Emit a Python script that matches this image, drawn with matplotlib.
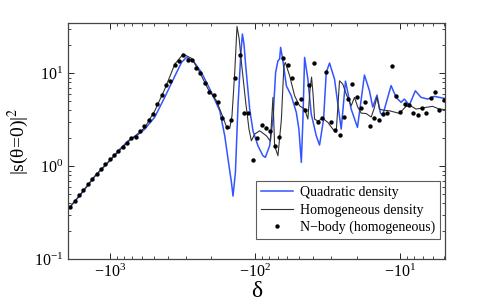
import numpy as np
import matplotlib
matplotlib.use('Agg')
import matplotlib.pyplot as plt
from matplotlib.ticker import LogLocator, FuncFormatter, NullFormatter

plt.rcParams['font.family'] = ['Liberation Serif', 'DejaVu Serif']
plt.rcParams['mathtext.fontset'] = 'stix'

# N-body (homogeneous) points
delta_nbody = [-1884, -1748, -1633, -1526, -1423, -1330, -1234, -1153, -1077, -1005,
               -939, -877, -818, -764, -714, -666, -622, -581, -542, -506,
               -473, -441, -412, -385, -359, -336, -314, -292, -273, -255,
               -238, -222, -206.5, -193, -180, -168, -157, -147, -137, -128,
               -119.4, -111.4, -104, -96.9, -90.2, -84.3, -78.6, -73.4, -68.6, -64.0,
               -59.8, -55.8, -52.1, -48.7, -45.5, -42.4, -39.6, -37.0, -34.5, -32.3,
               -30.1, -28.1, -26.2, -24.5, -22.9, -21.4, -20.0, -18.6, -17.4, -16.2,
               -15.1, -14.1, -13.15, -12.3, -11.5, -10.7, -10.0, -9.34, -8.71, -8.14,
               -7.60, -7.10, -6.63, -6.19, -5.77, -5.40, -5.01]
s_nbody = [0.368, 0.427, 0.488, 0.560, 0.640, 0.730, 0.833, 0.942, 1.05, 1.19,
           1.32, 1.47, 1.61, 1.78, 2.01, 2.08, 2.38, 2.69, 3.12, 3.65,
           4.68, 5.84, 7.43, 8.32, 12.4, 13.6, 15.8, 14.0, 14.1, 11.3,
           10.15, 7.86, 6.25, 5.84, 4.95, 3.33, 2.63, 3.17, 8.9, 15.7,
           3.77, 3.71, 1.17, 2.0, 2.78, 2.58, 2.38, 1.66, 2.08, 14.6,
           12.3, 8.9, 4.76, 5.25, 4.03, 7.43, 13.0, 3.02, 3.33, 10.25,
           3.02, 2.44, 2.15, 3.39, 5.29, 7.62, 5.60, 4.27, 4.91, 2.73,
           3.28, 3.17, 3.65, 3.74, 12.1, 5.66, 3.84, 4.64, 4.53, 3.71,
           3.53, 4.24, 3.71, 5.47, 6.29, 4.06, 5.20]

# homogeneous density model
delta_homog = [-2000, -1608, -1268, -1000, -827, -717, -622, -575, -491, -419,
               -357.6, -313.4, -274.5, -247.3, -211.1, -184.8, -166.5, -156.2, -149.7, -144.4,
               -138.3, -133.4, -128.8, -124.4, -116.2, -110.3, -106.2, -100.8, -93.1, -83.75,
               -78.6, -75.45, -73.45, -69.7, -66.05, -63.4, -62.0, -57.9, -53.5, -49.45,
               -45.67, -43.36, -41.88, -40.9, -39.94, -39.0, -37.02, -34.2, -31.6, -29.2,
               -27.67, -26.25, -24.92, -23.62, -21.82, -20.71, -19.66, -18.63, -17.2, -15.9,
               -15.2, -14.5, -13.94, -13.23, -11.9, -10.16, -9.14, -8.44, -7.80, -6.66,
               -6.0, -5.40, -4.91]
s_homog = [0.327, 0.491, 0.786, 1.169, 1.573, 1.966, 2.338, 2.627, 3.962, 6.78,
           12.59, 16.13, 14.5, 11.12, 6.78, 5.075, 3.365, 2.563, 2.563, 3.50,
           10.25, 32.0, 23.4, 13.13, 4.88, 2.518, 1.885, 2.225, 2.414, 2.133,
           1.871, 5.52, 1.665, 1.30, 3.146, 12.07, 13.13, 9.42, 5.74, 4.48,
           4.13, 3.226, 6.78, 9.12, 5.99, 3.226, 3.07, 3.28, 2.972, 2.518,
           2.32, 8.32, 7.67, 5.99, 4.48, 5.52, 4.34, 3.74, 3.70, 3.39,
           4.13, 5.56, 4.13, 4.03, 3.96, 3.715, 4.42, 4.45, 4.13, 4.31,
           4.42, 4.13, 4.08]

# quadratic density model
delta_quad = [-2000, -1608, -1268, -1000, -853.6, -748.5, -655.5, -575, -491, -419,
              -357.6, -321.5, -297.1, -267.6, -234.4, -200, -175.4, -162.0, -153.8, -145.7,
              -142.1, -136.8, -131.3, -125.8, -122.5, -119.4, -116.2, -109.1, -103.5, -95.7,
              -88.4, -85.1, -79.5, -75.45, -72.3, -69.7, -67.85, -66.8, -64.4, -61.0,
              -56.4, -52.1, -50.0, -48.1, -46.9, -45.67, -43.36, -41.1, -37.96, -36.03,
              -33.8, -32.4, -30.76, -28.42, -25.56, -23.88, -21.82, -19.75, -17.68, -16.33,
              -15.5, -14.5, -13.72, -13.23, -11.59, -10.7, -9.89, -9.39, -8.67, -7.89,
              -7.21, -6.49, -5.84, -4.91]
s_quad = [0.327, 0.491, 0.786, 1.154, 1.535, 1.885, 2.133, 2.518, 3.39, 5.56,
          9.35, 13.13, 14.86, 13.66, 10.25, 6.25, 3.962, 2.133, 1.198, 0.673,
          0.479, 0.862, 4.48, 15.46, 26.5, 20.65, 12.07, 4.13, 2.397, 1.665,
          1.30, 1.25, 1.665, 3.226, 10.25, 13.66, 14.25, 19.04, 13.66, 7.36,
          5.74, 3.81, 2.518, 1.104, 3.226, 14.86, 8.68, 3.65, 2.133, 1.694,
          3.226, 10.25, 12.9, 8.68, 2.518, 8.26, 4.13, 2.627, 9.59, 6.50,
          4.34, 5.84, 3.74, 3.56, 7.39, 5.52, 4.88, 5.29, 4.56, 6.50,
          5.52, 5.29, 5.66, 5.36]

fig = plt.figure(figsize=(4.91, 3.08), dpi=100)
ax = fig.add_axes([0.1385, 0.158, 0.7678, 0.768])

ax.plot(-np.array(delta_quad), s_quad, color='#3355ff', lw=1.1, label='Quadratic density')
ax.plot(-np.array(delta_homog), s_homog, color='#333333', lw=0.8, label='Homogeneous density')
ax.plot(-np.array(delta_nbody), s_nbody, 'k.', ms=4.3, label='N\u2212body (homogeneous)')

ax.set_xscale('log')
ax.set_yscale('log')
ax.set_xlim(1945, 4.93)
ax.set_ylim(0.1, 35)

ax.xaxis.set_major_locator(LogLocator(base=10, numticks=10))
ax.xaxis.set_minor_locator(LogLocator(base=10, subs=np.arange(2, 10), numticks=20))
ax.xaxis.set_major_formatter(FuncFormatter(lambda v, p: r'$\mathdefault{-10^{%d}}$' % round(np.log10(v))))
ax.xaxis.set_minor_formatter(NullFormatter())

ax.tick_params(which='both', direction='in', top=True, right=True, labelsize=11.5)
ax.tick_params(which='major', length=4, width=0.6)
ax.tick_params(which='minor', length=2, width=0.5)
for sp in ax.spines.values():
    sp.set_color('#444444')
    sp.set_linewidth(0.9)

ax.set_xlabel('δ', fontsize=17, labelpad=0)
ax.set_ylabel('|s(θ=0)|$^2$', fontsize=14, labelpad=2)

leg = ax.legend(loc='lower right', bbox_to_anchor=(0.9867, 0.0845), borderaxespad=0,
                fontsize=10, fancybox=False, numpoints=1, handlelength=2.3,
                borderpad=0.35, labelspacing=0.32, handletextpad=0.5)
leg.get_frame().set_edgecolor('#333333')
leg.get_frame().set_linewidth(0.8)

fig.savefig('out.png', dpi=100)
